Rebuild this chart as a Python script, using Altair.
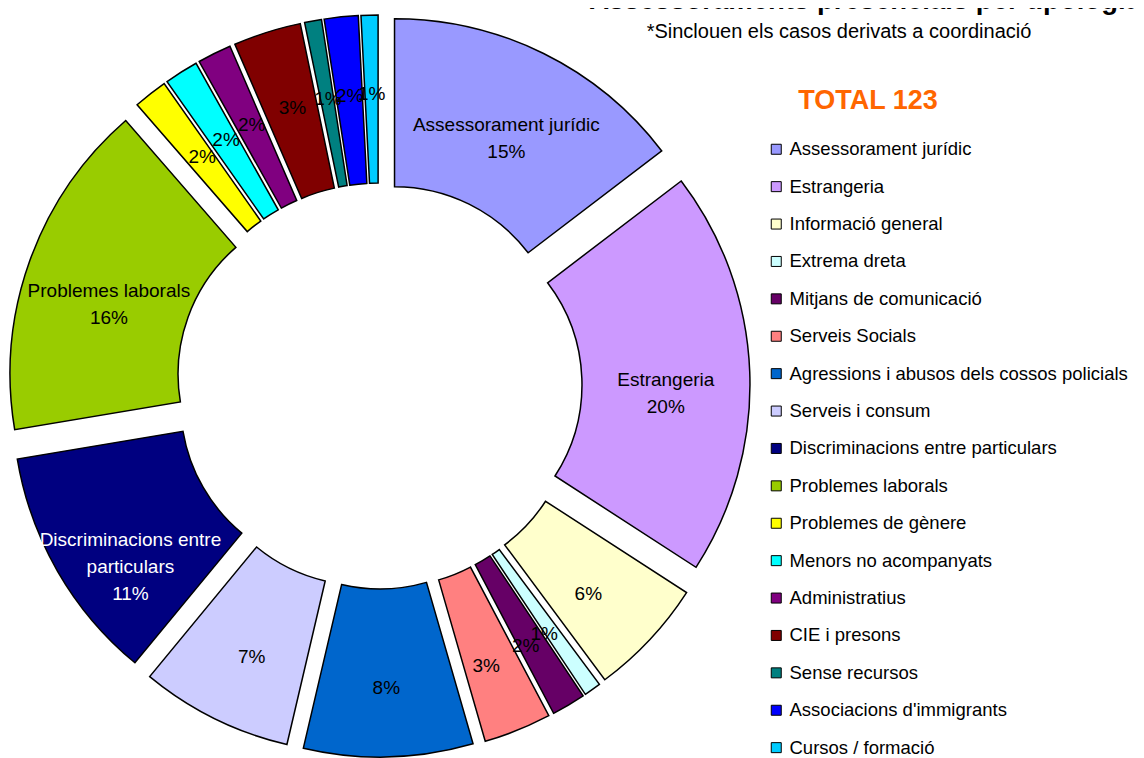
import math
import altair as alt
import pandas as pd

# ---------------- data ----------------
categories = [
    "Assessorament jurídic",
    "Estrangeria",
    "Informació general",
    "Extrema dreta",
    "Mitjans de comunicació",
    "Serveis Socials",
    "Agressions i abusos dels cossos policials",
    "Serveis i consum",
    "Discriminacions entre particulars",
    "Problemes laborals",
    "Problemes de gènere",
    "Menors no acompanyats",
    "Administratius",
    "CIE i presons",
    "Sense recursos",
    "Associacions d'immigrants",
    "Cursos / formació",
]
counts = [18, 24, 7, 1, 2, 4, 10, 9, 14, 20, 2, 2, 2, 4, 1, 2, 1]
colors = [
    "#9999FF", "#CC99FF", "#FFFFCC", "#CCFFFF", "#660066", "#FF8080",
    "#0066CC", "#CCCCFF", "#000080", "#99CC00", "#FFFF00", "#00FFFF",
    "#800080", "#800000", "#008080", "#0000FF", "#00CCFF",
]
slice_names = [
    "Assessorament jurídic", "Estrangeria", "", "", "", "", "", "",
    "Discriminacions entre\nparticulars", "Problemes laborals",
    "", "", "", "", "", "", "",
]
title_text = "Assessoraments presencials per tipologia"
subtitle_text = "*Sinclouen els casos derivats a coordinació"

total = sum(counts)
pcts = [math.floor(100 * c / total + 0.5) for c in counts]
labels = [(n + "\n" if n else "") + f"{p}%" for n, p in zip(slice_names, pcts)]

df = pd.DataFrame({
    "idx": list(range(len(categories))),
    "category": categories,
    "count": counts,
    "label": labels,
})

# ---------------- geometry (styles) ----------------
CX, CY = 371, 378
R_OUT, R_IN = 336, 168
EXPLODE = 35
LABEL_RX = 252
LABEL_RY = 262
LABEL_DY = 5
U = R_OUT + EXPLODE

xscale = alt.Scale(domain=[-1, 1], range=[CX - U, CX + U])
yscale = alt.Scale(domain=[-1, 1], range=[CY + U, CY - U])

e = EXPLODE / U
lrx = (EXPLODE + LABEL_RX) / U
lry = (EXPLODE + LABEL_RY) / U
ldy = LABEL_DY / U

base = (
    alt.Chart(df)
    .transform_window(cum="sum(count)", sort=[alt.SortField("idx")], frame=[None, 0])
    .transform_calculate(start="datum.cum - datum.count")
    .transform_calculate(mid=f"(datum.start + datum.count / 2) / {total} * 2 * PI")
    .transform_calculate(
        ex=f"{e} * sin(datum.mid)",
        ey=f"{e} * cos(datum.mid)",
        lx=f"{lrx} * sin(datum.mid)",
        ly=f"{lry} * cos(datum.mid) - {ldy}",
    )
)

arcs = base.mark_arc(
    radius=R_OUT, radius2=R_IN, stroke="black", strokeWidth=1.5
).encode(
    x=alt.X("ex:Q", scale=xscale, axis=None),
    y=alt.Y("ey:Q", scale=yscale, axis=None),
    theta=alt.Theta("start:Q", stack=None,
                    scale=alt.Scale(domain=[0, total], range=[0, 2 * math.pi])),
    theta2="cum:Q",
    color=alt.Color(
        "category:N",
        scale=alt.Scale(domain=categories, range=colors),
        sort=categories,
        legend=alt.Legend(
            orient="none", legendX=759, legendY=132, title=None,
            symbolType="square", symbolSize=100,
            symbolStrokeColor="black", symbolStrokeWidth=1,
            labelFontSize=18.5, labelFont="Liberation Sans", labelColor="black",
            rowPadding=18.4, labelOffset=4, labelLimit=500, padding=0,
        ),
    ),
    tooltip=["category:N", "count:Q"],
)

texts = base.mark_text(
    lineBreak="\n", lineHeight=27, fontSize=19, font="Liberation Sans",
    align="center", baseline="middle",
).encode(
    x=alt.X("lx:Q", scale=xscale, axis=None),
    y=alt.Y("ly:Q", scale=yscale, axis=None),
    text="label:N",
    color=alt.condition(
        alt.datum.category == "Discriminacions entre particulars",
        alt.value("white"), alt.value("black"),
    ),
)

ann = alt.Chart(pd.DataFrame({"a": [0]}))
title = ann.mark_text(
    text=title_text, fontSize=27.5, fontWeight="bold", font="Liberation Sans",
    align="center", baseline="alphabetic", color="black",
).encode(x=alt.value(857), y=alt.value(1))
subtitle = ann.mark_text(
    text=subtitle_text, fontSize=20, font="Liberation Sans",
    align="center", baseline="middle", color="black",
).encode(x=alt.value(831), y=alt.value(24))
total_txt = ann.mark_text(
    text=f"TOTAL {total}", fontSize=27, fontWeight="bold", font="Liberation Sans",
    align="center", baseline="middle", color="#FF6600",
).encode(x=alt.value(860), y=alt.value(93))

chart = (
    alt.layer(arcs, texts, title, subtitle, total_txt)
    .properties(width=1128, height=750, autosize="none", padding=0)
    .configure_view(stroke=None)
)

chart.save("out.html", embed_options={"renderer": "svg", "actions": False})
